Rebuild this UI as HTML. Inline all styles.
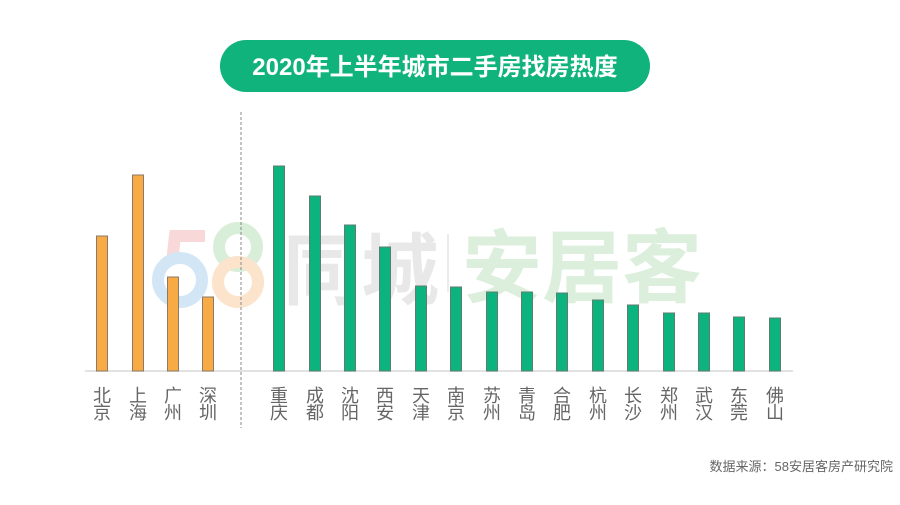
<!DOCTYPE html>
<html><head><meta charset="utf-8"><style>
body{margin:0;width:900px;height:500px;background:#fff;overflow:hidden;font-family:"Liberation Sans","Noto Sans CJK SC",sans-serif}
</style></head><body>
<svg width="900" height="500" xmlns="http://www.w3.org/2000/svg" font-family="Liberation Sans, Noto Sans CJK SC, sans-serif">
<rect x="220" y="40" width="430" height="52" rx="26" fill="#0fb37b"/>
<text x="435" y="75" text-anchor="middle" font-size="24" font-weight="bold" fill="#fff">2020年上半年城市二手房找房热度</text>
<g>
<path d="M205,236 L175,236 L172,262" fill="none" stroke="#f8d8d8" stroke-width="12"/>
<circle cx="180" cy="280" r="22" fill="none" stroke="#d3e6f5" stroke-width="12"/>
<circle cx="238" cy="247" r="19" fill="none" stroke="#d9eed9" stroke-width="12"/>
<circle cx="238" cy="282" r="20" fill="none" stroke="#fbe3cc" stroke-width="12"/>
<text x="283" y="298" font-size="78" font-weight="bold" fill="#e8e8e8">同城</text>
<line x1="448" y1="234" x2="448" y2="292" stroke="#e6e6e6" stroke-width="1.5"/>
<text x="462" y="296" font-size="80" font-weight="bold" fill="#dcefdc">安居客</text>
</g>
<line x1="241" y1="112" x2="241" y2="428" stroke="#888" stroke-width="1" stroke-dasharray="3,2"/>
<line x1="85" y1="371" x2="793" y2="371" stroke="#d9d9d9" stroke-width="1.5"/>
<g fill="#f8aa45" stroke="#8a7a6a" stroke-width="1">
<rect x="96.5" y="236" width="11" height="135"/>
<rect x="132.5" y="175" width="11" height="196"/>
<rect x="167.5" y="277" width="11" height="94"/>
<rect x="202.5" y="297" width="11" height="74"/>
</g>
<g fill="#0db37f" stroke="#5d7d6d" stroke-width="1">
<rect x="273.5" y="166" width="11" height="205"/>
<rect x="309.5" y="196" width="11" height="175"/>
<rect x="344.5" y="225" width="11" height="146"/>
<rect x="379.5" y="247" width="11" height="124"/>
<rect x="415.5" y="286" width="11" height="85"/>
<rect x="450.5" y="287" width="11" height="84"/>
<rect x="486.5" y="292" width="11" height="79"/>
<rect x="521.5" y="292" width="11" height="79"/>
<rect x="556.5" y="293" width="11" height="78"/>
<rect x="592.5" y="300" width="11" height="71"/>
<rect x="627.5" y="305" width="11" height="66"/>
<rect x="663.5" y="313" width="11" height="58"/>
<rect x="698.5" y="313" width="11" height="58"/>
<rect x="733.5" y="317" width="11" height="54"/>
<rect x="769.5" y="318" width="11" height="53"/>
</g>
<g font-size="18" fill="#666" text-anchor="middle">
<text x="102" y="402">北</text><text x="102" y="419">京</text>
<text x="138" y="402">上</text><text x="138" y="419">海</text>
<text x="173" y="402">广</text><text x="173" y="419">州</text>
<text x="208" y="402">深</text><text x="208" y="419">圳</text>
<text x="279" y="402">重</text><text x="279" y="419">庆</text>
<text x="315" y="402">成</text><text x="315" y="419">都</text>
<text x="350" y="402">沈</text><text x="350" y="419">阳</text>
<text x="385" y="402">西</text><text x="385" y="419">安</text>
<text x="421" y="402">天</text><text x="421" y="419">津</text>
<text x="456" y="402">南</text><text x="456" y="419">京</text>
<text x="492" y="402">苏</text><text x="492" y="419">州</text>
<text x="527" y="402">青</text><text x="527" y="419">岛</text>
<text x="562" y="402">合</text><text x="562" y="419">肥</text>
<text x="598" y="402">杭</text><text x="598" y="419">州</text>
<text x="633" y="402">长</text><text x="633" y="419">沙</text>
<text x="669" y="402">郑</text><text x="669" y="419">州</text>
<text x="704" y="402">武</text><text x="704" y="419">汉</text>
<text x="739" y="402">东</text><text x="739" y="419">莞</text>
<text x="775" y="402">佛</text><text x="775" y="419">山</text>
</g>
<text x="893" y="471" text-anchor="end" font-size="13" fill="#666">数据来源：58安居客房产研究院</text>
</svg>
</body></html>
